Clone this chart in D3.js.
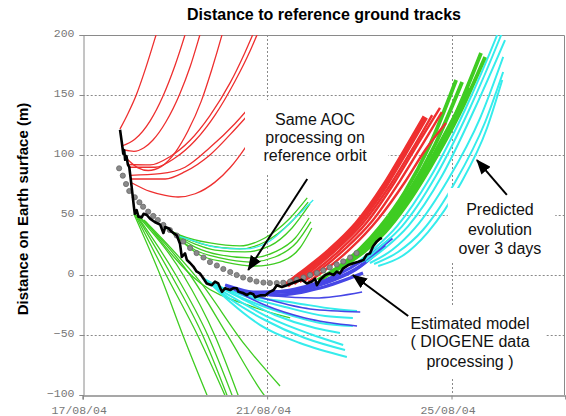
<!DOCTYPE html>
<html>
<head>
<meta charset="utf-8">
<script src="https://cdn.jsdelivr.net/npm/d3@7"></script>
<style>
  body { margin: 0; background: #fff; }
  svg { display: block; }
</style>
</head>
<body>
<div id="chart"></div>
<script>
// x = day of August 2004, y = distance in metres
const X_TICKS = [17, 21, 25]
const X_TICK_LABELS = ['17/08/04', '21/08/04', '25/08/04']
const Y_TICKS = [-100, -50, 0, 50, 100, 150, 200]
const Y_GRID = [-50, 0, 50, 100, 150]

// black line: estimated model (DIOGENE)
const estimatedModel = [
  [17.81,121],[17.85,110],[17.88,101],[17.90,104],[17.92,96],[17.95,99],[17.98,92],[18.01,90],
  [18.06,74],[18.11,57],[18.13,51],[18.17,54],[18.21,48.5],[18.28,48],[18.32,51],[18.39,50],
  [18.46,47],[18.57,44],[18.68,42],[18.75,35],[18.79,40],[18.86,39],[18.93,36],[19.04,33],
  [19.11,26],[19.15,15],[19.22,18],[19.26,12.5],[19.33,10],[19.40,7],[19.47,3],[19.54,1.4],
  [19.62,-3],[19.69,-7],[19.80,-8.5],[19.87,-5.5],[19.94,-7],[20.02,-14],[20.09,-11],[20.20,-12.5],
  [20.27,-11],[20.34,-11],[20.38,-14],[20.48,-15],[20.56,-16.7],[20.63,-15],[20.70,-16],[20.74,-18.6],
  [20.85,-17],[20.96,-17],[21.06,-14],[21.14,-12.5],[21.21,-8.5],[21.32,-10],[21.43,-8.5],[21.53,-7],
  [21.64,-5.5],[21.75,-4],[21.86,-7],[21.97,-5.5],[22.04,-3],[22.08,-8.5],[22.15,-4],[22.26,0],
  [22.36,1.4],[22.44,0],[22.51,2.8],[22.58,1.4],[22.65,5.6],[22.76,8.3],[22.87,9.8],[22.98,11],
  [23.09,12.5],[23.16,17],[23.23,18],[23.30,24],[23.38,28],[23.44,30],[23.49,31]
]

// grey dots: same AOC processing on reference orbit
const referenceOrbit = [
  [17.79,88.9],[17.87,82.8],[17.94,75.8],[18.01,70],[18.13,64.8],[18.23,60.6],[18.31,56.9],[18.42,52.8],
  [18.53,49.2],[18.63,45.8],[18.75,41.7],[18.89,37.5],[19.04,32.9],[19.18,27.9],[19.33,22.5],[19.47,18.3],
  [19.62,14.6],[19.76,10.8],[19.91,7.9],[20.05,5],[20.20,2.5],[20.34,0],[20.48,-2.1],[20.63,-3.8],
  [20.77,-5.4],[20.92,-6.3],[21.06,-6.7],[21.21,-6.7],[21.35,-6.4],[21.50,-5.4],[21.64,-3.9],[21.79,-2.1],
  [21.93,0],[22.08,1.7],[22.22,3.8],[22.36,6.3],[22.51,8.8],[22.65,11.3],[22.80,14.6],[22.94,18.3]
]

// 3-day predictions, one array per run
const redEarly = [
  [[17.81,121.7],[17.98,134.4],[18.16,149.8],[18.37,172.8],[18.59,200],[18.66,208.9]],
  [[17.85,107.5],[18.13,113.1],[18.46,128.3],[18.74,149],[19.00,174.4],[19.22,200.2],[19.31,211.6]],
  [[17.90,104.2],[18.11,103],[18.33,106],[18.52,112.3],[18.80,127.3],[19.11,151.3],[19.33,173.5],[19.54,199.8],[19.63,211.5]],
  [[17.94,97.5],[18.20,89.3],[18.42,87.1],[18.70,90.3],[19.02,102.9],[19.28,119.8],[19.57,144.7],[19.80,171.3],[20.02,199.9],[20.11,212.5]],
  [[17.98,92.1],[18.46,91.7],[18.89,98.6],[19.33,112.3],[19.76,132.9],[20.20,160.3],[20.52,185.5],[20.69,200.4],[20.80,210.3]],
  [[18.00,89.8],[18.57,89.8],[19.00,97.5],[19.44,112.1],[19.87,133.3],[20.30,161.3],[20.63,186.7],[20.78,200],[20.89,209.9]],
  [[18.03,83],[18.68,84.4],[19.22,89.8],[19.76,106.2],[20.30,126.1],[20.60,139]],
  [[18.05,80],[18.79,80],[19.22,86.1],[19.76,100.1],[20.30,121.3],[20.60,134]],
  [[18.07,76.7],[18.46,69.6],[18.79,66.3],[19.07,65],[19.44,67.7],[19.87,77.4],[20.20,89.6],[20.52,105.8],[20.85,126.1]]
]

const greenDescending = [
  [[18.11,50.8],[18.68,0],[19.18,-50.8],[19.74,-104.2]],
  [[18.13,50.8],[18.81,0],[19.50,-50.8],[20.13,-104.2]],
  [[18.16,50],[18.92,0],[19.61,-50.8],[20.17,-104.2]],
  [[18.18,49.2],[19.02,0],[19.72,-50.8],[20.28,-104.2]],
  [[18.22,48.3],[19.18,0],[19.87,-50.8],[20.41,-104.2]],
  [[18.26,47.5],[19.33,0],[20.15,-50.8],[20.95,-100.8],[21.02,-104.2]],
  [[18.33,45.8],[19.55,-5.8],[20.52,-58.3],[21.28,-92.5]],
  [[18.37,44.2],[19.55,-6.7],[20.63,-25.8],[21.50,-35.8]]
]

const greenArcs = [
  [[18.79,39.2],[19.11,33.3],[19.76,26.7],[20.41,24.2],[20.95,30.8],[21.50,47.5],[21.87,64.2]],
  [[18.89,36.7],[19.33,29.2],[19.76,24.2],[20.41,21.7],[20.95,27.5],[21.50,43.3],[21.89,60.8]],
  [[18.94,35],[19.44,25.8],[19.87,20.8],[20.52,19.2],[21.06,24.2],[21.54,39.2],[21.93,59.2]],
  [[18.92,35.8],[19.44,23.3],[19.98,16.7],[20.63,14.2],[21.17,19.2],[21.61,30.8],[21.91,47.5]],
  [[18.96,34.2],[19.44,20.8],[19.98,14.2],[20.63,10.8],[21.17,15],[21.65,27.5],[21.95,44.2]],
  [[18.98,34.2],[19.54,16.7],[20.09,10.8],[20.74,7.5],[21.28,10.8],[21.71,22.5],[21.97,39.2]]
]

const cyanArcs = [
  [[19.00,33.3],[19.22,30.8],[19.87,23.3],[20.52,21.7],[21.06,28.3],[21.56,45.8],[22.00,62.5]]
]

const cyanFan = [
  [[19.74,-5.8],[20.20,-22.5],[20.85,-41.7],[21.71,-56.7],[22.73,-68.3]],
  [[19.70,-5],[20.20,-20],[20.95,-37.5],[21.82,-52.5],[22.69,-62.5]],
  [[19.65,-4.2],[20.24,-18.3],[21.06,-35.8],[21.93,-49.2],[22.65,-58.3]],
  [[19.59,-2.5],[20.30,-16.7],[21.17,-33.3],[22.04,-44.2],[22.58,-48.3]],
  [[19.87,-7.5],[20.41,-18.3],[21.28,-30.8],[22.15,-40],[22.86,-42.5]],
  [[19.87,-8.3],[20.52,-17.5],[21.39,-26.7],[22.26,-34.2],[22.86,-35.8]],
  [[19.96,-10.8],[20.74,-18.3],[21.61,-23.3],[22.47,-28.3],[22.95,-30]]
]

const blueFan = [
  [[20.09,-8.3],[20.95,-25],[21.82,-35.8],[22.95,-42.5]],
  [[20.20,-10],[21.06,-20.8],[21.93,-28.3],[23.02,-30.8]],
  [[20.30,-11.7],[21.17,-17.5],[22.04,-19.2],[23.06,-14.2]]
]

const blueRising = [
  [[20.09,-8.3],[20.74,-15],[21.28,-16.7],[22.15,-10.8],[23.08,1.7]],
  [[20.52,-14.2],[21.39,-14.2],[22.26,-6.7],[22.91,4.2],[23.45,20.8]],
  [[20.63,-15],[21.50,-13.3],[22.36,-5],[23.02,7.5],[23.56,25]],
  [[20.74,-15.8],[21.61,-11.7],[22.47,-0.8],[23.12,13.3],[23.71,30.8]]
]

const redBundle = [
  [[21.43,-8.3],[21.71,0],[22.36,20],[22.95,42.5],[23.56,75],[23.99,102.5],[24.43,131.7]],
  [[21.59,-7.5],[21.93,2.5],[22.47,20],[23.06,42.5],[23.67,75],[24.14,104.2],[24.58,133.3]],
  [[21.71,-5.8],[22.04,3.3],[22.58,20.8],[23.17,44.2],[23.77,77.5],[24.32,112.5],[24.75,139.2]],
  [[21.80,-5],[22.15,4.2],[22.69,21.7],[23.28,45],[23.88,78.3],[24.36,108.3],[24.79,135.8]],
  [[21.89,-5.8],[22.26,4.2],[22.80,21.7],[23.41,46.7],[23.99,77.5],[24.43,104.2],[24.88,126.7]]
]

const greenBundle = [
  [[22.10,-4.2],[22.58,7.5],[23.02,21.7],[23.45,40],[23.99,69.2],[24.53,108.3],[25.10,162.5]],
  [[22.21,-2.5],[22.69,10],[23.12,24.2],[23.56,41.7],[24.10,70.8],[24.64,108.3],[25.23,160.8]],
  [[22.36,0.8],[22.80,11.7],[23.23,25.8],[23.67,43.3],[24.21,72.5],[24.79,112.5],[25.40,155.8]],
  [[22.65,7.5],[23.02,18.3],[23.45,34.2],[23.88,54.2],[24.43,87.5],[25.08,133.3],[25.64,185]],
  [[22.73,9.2],[23.12,20],[23.56,35.8],[23.99,56.7],[24.53,89.2],[25.18,135],[25.73,181.7]]
]

const cyanBundle = [
  [[22.97,10.8],[23.34,22.5],[23.82,40.8],[24.53,80.8],[25.29,137.5],[25.99,200],[26.05,205.8]],
  [[23.06,10.8],[23.45,23.3],[23.93,40.8],[24.66,82.5],[25.40,139.2],[26.05,197.5],[26.12,204.2]],
  [[23.15,10.8],[23.56,22.5],[24.06,40.8],[24.79,82.5],[25.51,139.2],[26.16,195.8]],
  [[23.23,10],[23.71,20.8],[24.21,39.2],[24.92,79.2],[25.62,130.8],[26.12,181.7]],
  [[23.32,9.2],[23.84,19.2],[24.38,37.5],[25.08,77.5],[25.73,127.5],[26.12,169.2]],
  [[23.41,7.5],[23.93,15.8],[24.49,35.8],[25.18,75],[25.77,122.5],[26.10,162.5]]
]

// text boxes, in data units
const notes = [
  { lines: ['Same AOC', 'processing on', 'reference orbit'], cx: 22.04, ys: [130, 114.6, 99.2],
    box: [20.52, 23.63, 145.8, 85], arrow: [[21.87, 80], [20.59, 4.2]] },
  { lines: ['Predicted', 'evolution', 'over 3 days'], cx: 26.05, ys: [54.2, 38.3, 22.5],
    box: [24.92, 27.25, 72.5, 10.8], arrow: [[26.20, 66.7], [25.55, 95.8]] },
  { lines: ['Estimated model', '( DIOGENE data', 'processing )'], cx: 25.40, ys: [-40, -55.8, -71.7],
    box: [23.84, 27.03, -25, -85.8], arrow: [[24.06, -34.2], [22.86, 0]] }
]

const RED = '#ee2f2f', GREEN = '#3fcc22', CYAN = '#35ecec', BLUE = '#4646e6'
const AXIS = '#8a8a8a'
const SANS = "'Liberation Sans', Arial, sans-serif"
const MONO = "'Courier New', 'Liberation Mono', monospace"

const W = 566, H = 416
const plot = { left: 82.7, right: 565.4, top: 35, bottom: 395 }

const x = d3.scaleLinear().domain([17, 27.47]).range([plot.left, plot.right])
const y = d3.scaleLinear().domain([-100, 200]).range([plot.bottom, plot.top])

const svg = d3.select('#chart').append('svg')
  .attr('width', W).attr('height', H)
  .attr('font-family', SANS)

svg.append('defs').append('clipPath').attr('id', 'plot-clip')
  .append('rect')
  .attr('x', plot.left).attr('y', plot.top)
  .attr('width', plot.right - plot.left).attr('height', plot.bottom - plot.top)

svg.select('defs').append('marker')
  .attr('id', 'head')
  .attr('markerUnits', 'userSpaceOnUse')
  .attr('markerWidth', 15).attr('markerHeight', 12)
  .attr('refX', 14).attr('refY', 6)
  .attr('orient', 'auto')
  .append('path')
  .attr('d', 'M0,0 L15,6 L0,12 Z')
  .attr('fill', '#000')

// grid
const grid = svg.append('g')
grid.selectAll('.hgrid').data(Y_GRID).join('line')
  .attr('x1', plot.left).attr('x2', plot.right)
  .attr('y1', d => Math.round(y(d)) + 0.5).attr('y2', d => Math.round(y(d)) + 0.5)
  .attr('stroke', AXIS).attr('stroke-dasharray', '2,2')
grid.selectAll('.vgrid').data(X_TICKS.slice(1)).join('line')
  .attr('x1', d => Math.round(x(d)) + 0.5).attr('x2', d => Math.round(x(d)) + 0.5)
  .attr('y1', plot.top).attr('y2', plot.bottom)
  .attr('stroke', AXIS).attr('stroke-dasharray', '2,2')

// frame top / right
svg.append('path')
  .attr('d', `M${plot.left},${Math.round(y(200)) + 0.5}H${Math.round(plot.right) - 0.5}V${plot.bottom}`)
  .attr('fill', 'none').attr('stroke', AXIS)

const line = d3.line().x(d => x(d[0])).y(d => y(d[1])).curve(d3.curveMonotoneX)

const curves = svg.append('g').attr('clip-path', 'url(#plot-clip)')

function drawSet(data, color, width) {
  curves.append('g').selectAll('path').data(data).join('path')
    .attr('d', line)
    .attr('fill', 'none')
    .attr('stroke', color)
    .attr('stroke-width', width)
}

drawSet(greenDescending, GREEN, 1.3)
drawSet(greenArcs, GREEN, 1.3)
drawSet(cyanArcs, CYAN, 1.3)
drawSet(cyanFan, CYAN, 2)
drawSet(blueFan, BLUE, 1.6)
drawSet(blueRising, BLUE, 3.2)
drawSet(cyanBundle, CYAN, 2)
drawSet(greenBundle, GREEN, 3.8)
drawSet(redBundle.slice(0, 1), RED, 6)
drawSet(redBundle.slice(1), RED, 2.4)
drawSet(redEarly, RED, 1.3)

// reference orbit dots
curves.append('g').selectAll('circle').data(referenceOrbit).join('circle')
  .attr('cx', d => x(d[0])).attr('cy', d => y(d[1]))
  .attr('r', 2.6)
  .attr('fill', '#8a8a8a').attr('stroke', '#6a6a6a').attr('stroke-width', 0.8)

// estimated model
curves.append('path')
  .datum(estimatedModel)
  .attr('d', d3.line().x(d => x(d[0])).y(d => y(d[1])))
  .attr('fill', 'none')
  .attr('stroke', '#000')
  .attr('stroke-width', 2.6)
  .attr('stroke-linejoin', 'round')

// axes
const yAxis = svg.append('g')
  .attr('transform', `translate(${Math.round(plot.left) + 0.5},0)`)
  .call(d3.axisLeft(y).tickValues(Y_TICKS).tickSize(4).tickPadding(5).tickFormat(d3.format('d')))
const xAxis = svg.append('g')
  .attr('transform', `translate(0,${plot.bottom + 0.5})`)
  .call(d3.axisBottom(x).tickValues(X_TICKS).tickSize(4).tickPadding(6)
    .tickFormat((d, i) => X_TICK_LABELS[i]))

for (const ax of [yAxis, xAxis]) {
  ax.select('.domain').attr('stroke', AXIS)
  ax.selectAll('.tick line').attr('stroke', AXIS)
  ax.selectAll('.tick text')
    .attr('fill', '#777')
    .attr('font-family', MONO)
    .attr('font-size', 11.5)
}
xAxis.select('.domain').attr('stroke-width', 1.5)
yAxis.selectAll('.tick text').attr('dy', '0.1em')
xAxis.selectAll('.tick text').attr('dx', -4)

// annotations
for (const n of notes) {
  const g = svg.append('g')
  g.append('rect')
    .attr('x', x(n.box[0])).attr('y', y(n.box[2]))
    .attr('width', x(n.box[1]) - x(n.box[0]))
    .attr('height', y(n.box[3]) - y(n.box[2]))
    .attr('fill', '#fff')
  g.selectAll('text').data(n.lines).join('text')
    .attr('x', x(n.cx))
    .attr('y', (d, i) => y(n.ys[i]))
    .attr('text-anchor', 'middle')
    .attr('dominant-baseline', 'central')
    .attr('font-size', 16)
    .attr('fill', '#111')
    .text(d => d)
  g.append('line')
    .attr('x1', x(n.arrow[0][0])).attr('y1', y(n.arrow[0][1]))
    .attr('x2', x(n.arrow[1][0])).attr('y2', y(n.arrow[1][1]))
    .attr('stroke', '#000').attr('stroke-width', 2)
    .attr('marker-end', 'url(#head)')
}

// titles
svg.append('text')
  .attr('x', 324).attr('y', 14)
  .attr('text-anchor', 'middle').attr('dominant-baseline', 'central')
  .attr('font-size', 16).attr('font-weight', 'bold')
  .text('Distance to reference ground tracks')

svg.append('text')
  .attr('transform', `translate(22,209) rotate(-90)`)
  .attr('text-anchor', 'middle').attr('dominant-baseline', 'central')
  .attr('font-size', 15).attr('font-weight', 'bold')
  .text('Distance on Earth surface (m)')
</script>
</body>
</html>
